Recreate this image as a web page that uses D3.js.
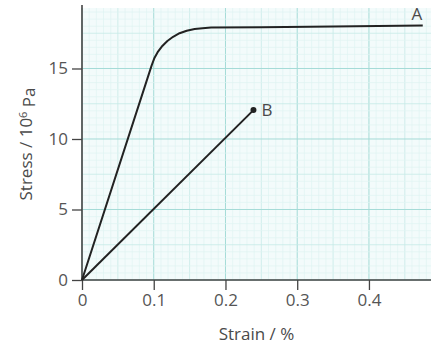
<!DOCTYPE html>
<html>
<head>
<meta charset="utf-8">
<script src="https://cdn.jsdelivr.net/npm/d3@7"></script>
<style>
    body { margin: 0; background: #fff; }
    text { font-family: "Open Sans", "Noto Sans", sans-serif; fill: #4a4a4a; }
</style>
</head>
<body>
<div id="graph-container"></div>
<script>
// curve A: strain (%), stress (10^6 Pa)
var strainA = [0, 0.097, 0.101, 0.106, 0.112, 0.119, 0.127, 0.136, 0.146, 0.157, 0.168, 0.18, 0.25, 0.35, 0.475]
var stressA = [0, 15.2, 15.75, 16.2, 16.6, 16.95, 17.25, 17.5, 17.68, 17.8, 17.86, 17.9, 17.93, 17.98, 18.05]
// line B
var strainB = [0, 0.239]
var stressB = [0, 12.05]
var xTicks = [0, 0.1, 0.2, 0.3, 0.4]
var yTicks = [0, 5, 10, 15]
var xLabels = ["0", "0.1", "0.2", "0.3", "0.4"]

const WIDTH = 438
const HEIGHT = 347
const LEFT = 82
const RIGHT = 431
const TOP = 8
const BOTTOM = 280

var svg = d3.select("#graph-container")
    .append("svg")
    .attr("width", WIDTH)
    .attr("height", HEIGHT)

var xscale = d3.scaleLinear().domain([0, 0.4865]).range([LEFT, RIGHT])
var yscale = d3.scaleLinear().domain([0, 19.29]).range([BOTTOM, TOP])

// graph paper background
svg.append("rect")
    .attr("x", LEFT).attr("y", TOP)
    .attr("width", RIGHT - LEFT).attr("height", BOTTOM - TOP)
    .style("fill", "#f3fbfb")

var grid = svg.append("g")
function gridStyle(i, major) {
    if (i % major == 0) return ["#a4dbd7", 1]
    if (i % (major / 2) == 0) return ["#c6eae7", 0.8]
    return ["#dff3f2", 0.7]
}
for (var i = 0; i <= 48; i++) {
    var x = xscale(i * 0.01)
    var s = gridStyle(i, 10)
    grid.append("line")
        .attr("x1", x).attr("x2", x).attr("y1", TOP).attr("y2", BOTTOM)
        .style("stroke", s[0]).style("stroke-width", s[1])
}
for (var j = 0; j <= 38; j++) {
    var y = yscale(j * 0.5)
    var s = gridStyle(j, 10)
    grid.append("line")
        .attr("x1", LEFT).attr("x2", RIGHT).attr("y1", y).attr("y2", y)
        .style("stroke", s[0]).style("stroke-width", s[1])
}

// axes
var x_axis = d3.axisBottom(xscale)
    .tickValues(xTicks)
    .tickSize(10)
    .tickPadding(4)
    .tickFormat(function (d, i) { return xLabels[i] })
var y_axis = d3.axisLeft(yscale)
    .tickValues(yTicks)
    .tickSize(10)
    .tickPadding(4)

var gx = svg.append("g")
    .attr("transform", "translate(0," + BOTTOM + ")")
    .call(x_axis)
var gy = svg.append("g")
    .attr("transform", "translate(" + LEFT + ",0)")
    .call(y_axis)

;[gx, gy].forEach(function (g) {
    g.select(".domain").remove()
    g.selectAll(".tick line").style("stroke", "#444").style("stroke-width", 1.3)
    g.selectAll(".tick text")
        .style("font-family", '"Open Sans", sans-serif')
        .style("font-size", "17px")
        .style("fill", "#555")
})

// axis lines
svg.append("line")
    .attr("x1", LEFT).attr("x2", LEFT).attr("y1", TOP - 3).attr("y2", BOTTOM)
    .style("stroke", "#444").style("stroke-width", 1.6)
svg.append("line")
    .attr("x1", LEFT).attr("x2", RIGHT).attr("y1", BOTTOM).attr("y2", BOTTOM)
    .style("stroke", "#444").style("stroke-width", 1.6)

var lineGen = d3.line()
    .x(function (d) { return xscale(d[0]) })
    .y(function (d) { return yscale(d[1]) })

// curve A
var dataA = strainA.map(function (s, i) { return [s, stressA[i]] })
svg.append("path")
    .datum(dataA)
    .attr("d", lineGen)
    .style("fill", "none")
    .style("stroke", "#222")
    .style("stroke-width", 2)
    .style("stroke-linejoin", "round")

// line B
var dataB = strainB.map(function (s, i) { return [s, stressB[i]] })
svg.append("path")
    .datum(dataB)
    .attr("d", lineGen)
    .style("fill", "none")
    .style("stroke", "#222")
    .style("stroke-width", 2)
svg.append("circle")
    .attr("cx", xscale(strainB[1]))
    .attr("cy", yscale(stressB[1]))
    .attr("r", 3)
    .style("fill", "#222")

// curve labels
svg.append("text")
    .attr("x", xscale(strainA[strainA.length - 1]) - 6)
    .attr("y", yscale(stressA[stressA.length - 1]) - 5)
    .attr("text-anchor", "middle")
    .style("font-size", "17px")
    .text("A")
svg.append("text")
    .attr("x", xscale(strainB[1]) + 8)
    .attr("y", yscale(stressB[1]))
    .attr("dy", "0.36em")
    .style("font-size", "17px")
    .text("B")

// axis titles
svg.append("text")
    .attr("x", (LEFT + RIGHT) / 2)
    .attr("y", 340)
    .attr("text-anchor", "middle")
    .style("font-size", "17px")
    .text("Strain / %")

var ytitle = svg.append("text")
    .attr("transform", "translate(32," + ((TOP + BOTTOM) / 2) + ") rotate(-90)")
    .attr("text-anchor", "middle")
    .style("font-size", "17px")
ytitle.append("tspan").text("Stress / 10")
ytitle.append("tspan").attr("dy", "-0.45em").style("font-size", "11px").text("6")
ytitle.append("tspan").attr("dy", "0.45em").text(" Pa")
</script>
</body>
</html>
